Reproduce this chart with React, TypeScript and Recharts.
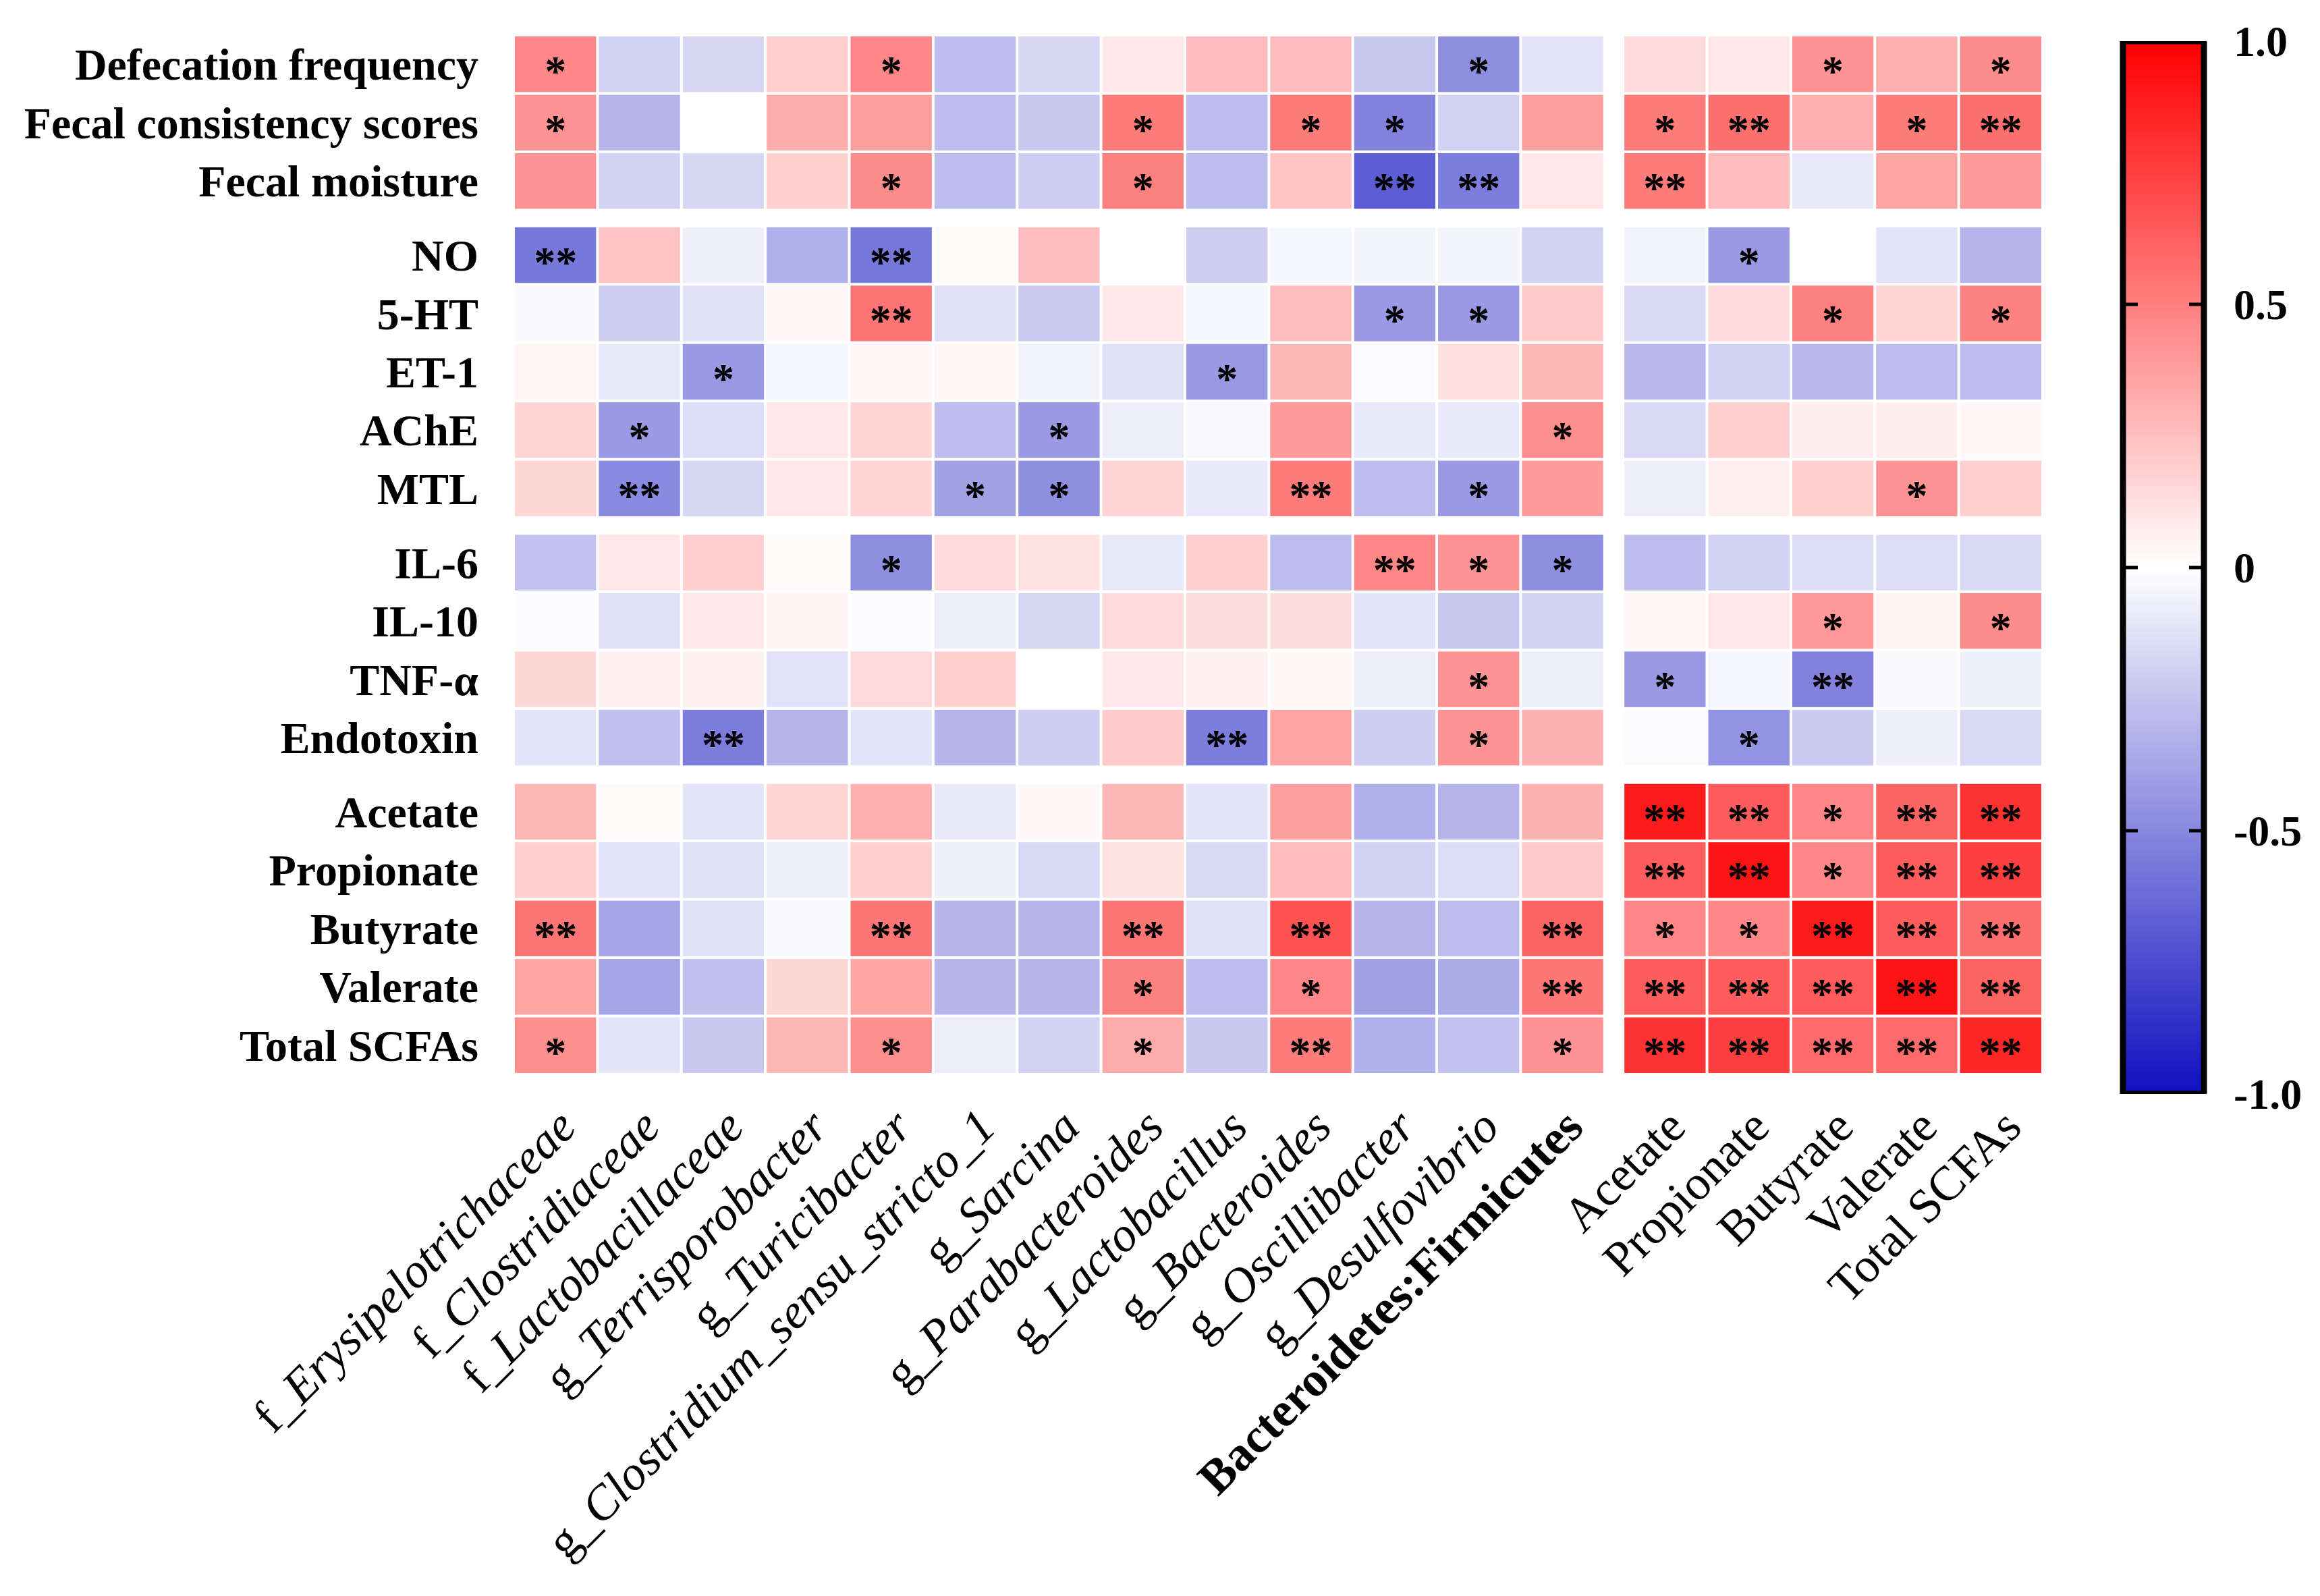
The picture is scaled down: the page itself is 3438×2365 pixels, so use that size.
import React from 'react'
import { ScatterChart, Scatter, XAxis, YAxis, BarChart, Bar } from 'recharts'

const rowLabels = [
  'Defecation frequency', 'Fecal consistency scores', 'Fecal moisture',
  'NO', '5-HT', 'ET-1', 'AChE', 'MTL',
  'IL-6', 'IL-10', 'TNF-α', 'Endotoxin',
  'Acetate', 'Propionate', 'Butyrate', 'Valerate', 'Total SCFAs',
]
const rowGroupSizes = [3, 5, 4, 5]

const colLabels = [
  'f_Erysipelotrichaceae', 'f_Clostridiaceae', 'f_Lactobacillaceae', 'g_Terrisporobacter',
  'g_Turicibacter', 'g_Clostridium_sensu_stricto_1', 'g_Sarcina', 'g_Parabacteroides',
  'g_Lactobacillus', 'g_Bacteroides', 'g_Oscillibacter', 'g_Desulfovibrio',
  'Bacteroidetes:Firmicutes',
  'Acetate', 'Propionate', 'Butyrate', 'Valerate', 'Total SCFAs',
]
const colGroupSizes = [13, 5]

// correlation coefficients, one block per row group
const bowelR = [
  [0.5, -0.2, -0.18, 0.2, 0.5, -0.3, -0.18, 0.1, 0.28, 0.28, -0.25, -0.5, -0.12, 0.15, 0.1, 0.45, 0.33, 0.48],
  [0.45, -0.33, 0, 0.35, 0.4, -0.3, -0.25, 0.55, -0.3, 0.55, -0.55, -0.2, 0.4, 0.55, 0.6, 0.33, 0.55, 0.6],
  [0.45, -0.2, -0.18, 0.2, 0.48, -0.3, -0.22, 0.53, -0.3, 0.25, -0.72, -0.58, 0.1, 0.55, 0.28, -0.1, 0.38, 0.42],
]
const neuroR = [
  [-0.6, 0.25, -0.07, -0.35, -0.6, 0.02, 0.27, 0, -0.22, -0.04, -0.05, -0.05, -0.2, -0.06, -0.45, 0, -0.12, -0.33],
  [-0.03, -0.22, -0.14, 0.03, 0.58, -0.14, -0.24, 0.1, -0.04, 0.27, -0.45, -0.45, 0.22, -0.17, 0.15, 0.53, 0.18, 0.52],
  [0.04, -0.1, -0.45, -0.04, 0.03, 0.04, -0.06, -0.14, -0.45, 0.3, -0.02, 0.13, 0.3, -0.32, -0.2, -0.32, -0.3, -0.3],
  [0.18, -0.45, -0.15, 0.1, 0.18, -0.3, -0.45, -0.08, -0.03, 0.42, -0.1, -0.1, 0.47, -0.17, 0.2, 0.08, 0.08, 0.03],
  [0.17, -0.52, -0.18, 0.1, 0.18, -0.42, -0.5, 0.18, -0.1, 0.55, -0.3, -0.45, 0.42, -0.08, 0.07, 0.2, 0.45, 0.2],
]
const inflamR = [
  [-0.27, 0.1, 0.2, 0.02, -0.5, 0.15, 0.12, -0.1, 0.2, -0.3, 0.5, 0.45, -0.5, -0.3, -0.2, -0.15, -0.15, -0.17],
  [-0.02, -0.14, 0.1, 0.05, -0.02, -0.08, -0.18, 0.15, 0.14, 0.14, -0.13, -0.25, -0.2, 0.04, 0.1, 0.43, 0.05, 0.48],
  [0.17, 0.06, 0.06, -0.13, 0.16, 0.2, 0, 0.1, 0.06, 0.03, -0.08, 0.45, -0.08, -0.45, -0.04, -0.55, -0.03, -0.07],
  [-0.12, -0.28, -0.58, -0.33, -0.12, -0.33, -0.22, 0.22, -0.58, 0.38, -0.22, 0.45, 0.32, -0.02, -0.48, -0.24, -0.07, -0.17],
]
const scfaR = [
  [0.3, 0.02, -0.12, 0.18, 0.33, -0.1, 0.03, 0.3, -0.12, 0.4, -0.35, -0.33, 0.32, 0.95, 0.68, 0.5, 0.65, 0.85],
  [0.2, -0.12, -0.14, -0.07, 0.2, -0.07, -0.17, 0.12, -0.17, 0.28, -0.2, -0.15, 0.22, 0.68, 0.98, 0.5, 0.68, 0.8],
  [0.57, -0.4, -0.14, -0.03, 0.57, -0.33, -0.33, 0.57, -0.14, 0.72, -0.33, -0.3, 0.65, 0.5, 0.5, 0.95, 0.68, 0.6],
  [0.38, -0.4, -0.28, 0.17, 0.38, -0.33, -0.33, 0.53, -0.3, 0.5, -0.42, -0.37, 0.57, 0.68, 0.68, 0.68, 0.98, 0.65],
  [0.47, -0.12, -0.25, 0.3, 0.47, -0.08, -0.2, 0.35, -0.25, 0.55, -0.35, -0.27, 0.45, 0.85, 0.8, 0.62, 0.62, 0.9],
]

// significance marks, same layout
const bowelSig = [
  ['*', '', '', '', '*', '', '', '', '', '', '', '*', '', '', '', '*', '', '*'],
  ['*', '', '', '', '', '', '', '*', '', '*', '*', '', '', '*', '**', '', '*', '**'],
  ['', '', '', '', '*', '', '', '*', '', '', '**', '**', '', '**', '', '', '', ''],
]
const neuroSig = [
  ['**', '', '', '', '**', '', '', '', '', '', '', '', '', '', '*', '', '', ''],
  ['', '', '', '', '**', '', '', '', '', '', '*', '*', '', '', '', '*', '', '*'],
  ['', '', '*', '', '', '', '', '', '*', '', '', '', '', '', '', '', '', ''],
  ['', '*', '', '', '', '', '*', '', '', '', '', '', '*', '', '', '', '', ''],
  ['', '**', '', '', '', '*', '*', '', '', '**', '', '*', '', '', '', '', '*', ''],
]
const inflamSig = [
  ['', '', '', '', '*', '', '', '', '', '', '**', '*', '*', '', '', '', '', ''],
  ['', '', '', '', '', '', '', '', '', '', '', '', '', '', '', '*', '', '*'],
  ['', '', '', '', '', '', '', '', '', '', '', '*', '', '*', '', '**', '', ''],
  ['', '', '**', '', '', '', '', '', '**', '', '', '*', '', '', '*', '', '', ''],
]
const scfaSig = [
  ['', '', '', '', '', '', '', '', '', '', '', '', '', '**', '**', '*', '**', '**'],
  ['', '', '', '', '', '', '', '', '', '', '', '', '', '**', '**', '*', '**', '**'],
  ['**', '', '', '', '**', '', '', '**', '', '**', '', '', '**', '*', '*', '**', '**', '**'],
  ['', '', '', '', '', '', '', '*', '', '*', '', '', '**', '**', '**', '**', '**', '**'],
  ['*', '', '', '', '*', '', '', '*', '', '**', '', '', '*', '**', '**', '**', '**', '**'],
]

const colorbarTicks = [-1, -0.5, 0, 0.5, 1]

const serif = '"Liberation Serif", "Times New Roman", serif'

const W = 3422
const H = 2349
const PLOT_LEFT = 753
const PLOT_RIGHT = 3019
const PLOT_TOP = 44
const PLOT_BOTTOM = 1584
const COL_GAP = 0.22
const ROW_GAP = 0.27
const X_SPAN = colLabels.length + (colGroupSizes.length - 1) * COL_GAP
const Y_SPAN = rowLabels.length + (rowGroupSizes.length - 1) * ROW_GAP
const CW = (PLOT_RIGHT - PLOT_LEFT) / X_SPAN
const CH = (PLOT_BOTTOM - PLOT_TOP) / Y_SPAN

const rValues = [...bowelR, ...neuroR, ...inflamR, ...scfaR]
const sigValues = [...bowelSig, ...neuroSig, ...inflamSig, ...scfaSig]

const groupOf = (i: number, sizes: number[]) => {
  let acc = 0
  for (let g = 0; g < sizes.length; g++) {
    acc += sizes[g]
    if (i < acc) return g
  }
  return sizes.length - 1
}
const colPos = (c: number) => c + groupOf(c, colGroupSizes) * COL_GAP + 0.5
const rowPos = (r: number) => r + groupOf(r, rowGroupSizes) * ROW_GAP + 0.5

const cells = rValues.flatMap((row, r) =>
  row.map((v, c) => ({ x: colPos(c), y: rowPos(r), r: v, sig: sigValues[r][c] })),
)
const colTicks = colLabels.map((_, c) => colPos(c))
const rowTicks = rowLabels.map((_, r) => rowPos(r))

const NEG = [16, 16, 192]
const colorOf = (v: number) => {
  const t = Math.min(1, Math.abs(v)) * 0.94
  const end = v >= 0 ? [250, 0, 0] : NEG
  const ch = end.map(e => Math.round(255 + (e - 255) * t))
  return `rgb(${ch[0]},${ch[1]},${ch[2]})`
}

const HeatCell = (p: any) => {
  const { cx, cy, payload } = p
  return (
    <g>
      <rect x={cx - CW / 2 + 2} y={cy - CH / 2 + 2} width={CW - 4} height={CH - 4} fill={colorOf(payload.r)} />
      {payload.sig && (
        <text x={cx} y={cy + 32} textAnchor="middle" fontFamily={serif} fontWeight="bold" fontSize={64} fill="#000">
          {payload.sig}
        </text>
      )}
    </g>
  )
}

const RowTick = (p: any) => (
  <text x={PLOT_LEFT - 52} y={p.y} dy="0.35em" textAnchor="end" fontFamily={serif} fontWeight="bold" fontSize={66} fill="#000">
    {rowLabels[p.index]}
  </text>
)

const ColTick = (p: any) => {
  const label = colLabels[p.index]
  const ax = p.x + 34
  const ay = PLOT_BOTTOM + 82
  let body: React.ReactNode = label
  if (label.startsWith('f_') || label.startsWith('g_')) {
    body = (
      <>
        <tspan>{label.slice(0, 2)}</tspan>
        <tspan fontStyle="italic">{label.slice(2)}</tspan>
      </>
    )
  }
  const bold = label.includes(':')
  return (
    <text x={ax} y={ay} textAnchor="end" transform={`rotate(-45, ${ax}, ${ay})`} fontFamily={serif}
      fontWeight={bold ? 'bold' : 'normal'} fontSize={72} fill="#000">
      {body}
    </text>
  )
}

const CbBar = (p: any) => {
  const { x, y, width, height } = p
  const marks = [0.25, 0.5, 0.75]
  return (
    <g>
      <defs>
        <linearGradient id="cbGrad" x1="0" y1="0" x2="0" y2="1">
          <stop offset="0%" stopColor="rgb(255,0,0)" />
          <stop offset="50%" stopColor="#ffffff" />
          <stop offset="100%" stopColor={`rgb(${NEG[0]},${NEG[1]},${NEG[2]})`} />
        </linearGradient>
      </defs>
      <rect x={x} y={y} width={width} height={height} fill="url(#cbGrad)" stroke="#000" strokeWidth={9} />
      {marks.map(f => (
        <g key={f}>
          <line x1={x} x2={x + 22} y1={y + height * f} y2={y + height * f} stroke="#000" strokeWidth={5} />
          <line x1={x + width - 22} x2={x + width} y1={y + height * f} y2={y + height * f} stroke="#000" strokeWidth={5} />
        </g>
      ))}
    </g>
  )
}

const CbTick = (p: any) => {
  const v = p.payload.value
  return (
    <text x={210} y={p.y} dy="0.35em" textAnchor="start" fontFamily={serif} fontWeight="bold" fontSize={64} fill="#000">
      {v === 0 ? '0' : v.toFixed(1)}
    </text>
  )
}

const cbData = [{ k: 'scale', range: [-1, 1] }]

export default function App() {
  return (
    <div style={{ position: 'relative', width: W, height: H, background: '#fff' }}>
      <ScatterChart width={W} height={H}
        margin={{ top: PLOT_TOP, right: W - PLOT_RIGHT, bottom: 0, left: 0 }}>
        <XAxis type="number" dataKey="x" domain={[0, X_SPAN]} ticks={colTicks} interval={0}
          axisLine={false} tickLine={false} height={H - PLOT_BOTTOM} tick={<ColTick />} allowDataOverflow />
        <YAxis type="number" dataKey="y" domain={[0, Y_SPAN]} ticks={rowTicks} interval={0} reversed
          axisLine={false} tickLine={false} width={PLOT_LEFT} tick={<RowTick />} allowDataOverflow />
        <Scatter data={cells} shape={<HeatCell />} isAnimationActive={false} />
      </ScatterChart>
      <div style={{ position: 'absolute', left: 3092, top: 0 }}>
        <BarChart width={330} height={1700} data={cbData} barCategoryGap={0}
          margin={{ top: 53, right: 0, bottom: 87, left: 46 }}>
          <XAxis dataKey="k" hide />
          <YAxis orientation="right" domain={[-1, 1]} ticks={colorbarTicks} interval={0} width={164}
            axisLine={false} tickLine={false} tick={<CbTick />} allowDataOverflow />
          <Bar dataKey="range" shape={<CbBar />} isAnimationActive={false} />
        </BarChart>
      </div>
    </div>
  )
}
